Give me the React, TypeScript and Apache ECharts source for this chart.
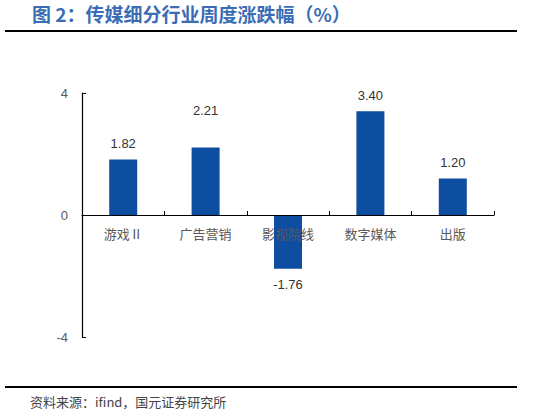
import { useEffect, useRef } from 'react';
import * as echarts from 'echarts';

const categories = ['游戏Ⅱ', '广告营销', '影视院线', '数字媒体', '出版'];
const values = [1.82, 2.21, -1.76, 3.4, 1.2];
// the 2.21 label sits higher than the others in the source
const labelLift = [0, 22, 0, 0, 0];

const TITLE = '图 2：传媒细分行业周度涨跌幅（%）';
const SOURCE = '资料来源：ifind，国元证券研究所';

const BAR_COLOR = '#0d4ea0';
const AXIS_TEXT = '#595959';
const CJK = '"Noto Sans CJK SC", sans-serif';
const LATIN = '"Liberation Sans", Arial, sans-serif';

const GRID_TOP = 93;
const GRID_BOTTOM = 80;
const Y_MIN = -4;
const Y_MAX = 4;

export default function App() {
  const ref = useRef<HTMLDivElement>(null);

  useEffect(() => {
    document.body.style.margin = '0';
    if (!ref.current) return;
    const chart = echarts.init(ref.current, undefined, { renderer: 'svg' });

    // move the category axis (line, ticks and labels) up to the zero line
    const plotH = 417 - GRID_TOP - GRID_BOTTOM;
    const zeroShift = (plotH * (0 - Y_MIN)) / (Y_MAX - Y_MIN);

    chart.setOption({
      animation: false,
      grid: { left: 82, right: 39, top: GRID_TOP, bottom: GRID_BOTTOM },
      xAxis: {
        type: 'category',
        data: categories,
        offset: -zeroShift,
        axisLine: { onZero: false, lineStyle: { color: '#000', width: 1.2 } },
        axisTick: { show: true, inside: true, length: 4, lineStyle: { color: '#000' } },
        axisLabel: { color: AXIS_TEXT, fontSize: 13, fontFamily: CJK, margin: 12 },
        z: 10,
      },
      yAxis: {
        type: 'value',
        min: Y_MIN,
        max: Y_MAX,
        interval: 4,
        axisLine: { show: true, lineStyle: { color: '#000', width: 1.2 } },
        axisTick: { show: true, inside: true, length: 4, lineStyle: { color: '#000' } },
        axisLabel: { color: AXIS_TEXT, fontSize: 13, fontFamily: LATIN, margin: 14 },
        splitLine: { show: false },
      },
      series: [
        {
          type: 'bar',
          barWidth: '34%',
          data: values.map((v, i) => ({
            value: v,
            label: { offset: [0, -labelLift[i]] },
          })),
          itemStyle: { color: BAR_COLOR },
          label: {
            show: true,
            position: 'outside',
            distance: 9,
            color: '#333',
            fontSize: 13,
            fontFamily: LATIN,
            formatter: (p: any) => Number(p.value).toFixed(2),
          },
        },
      ],
      graphic: [
        {
          type: 'text',
          left: 32,
          top: 4,
          style: {
            text: TITLE,
            fill: '#3a6db4',
            font: `bold 19px ${CJK}`,
          },
        },
        {
          type: 'line',
          shape: { x1: 5, y1: 31, x2: 517, y2: 31 },
          style: { stroke: '#000', lineWidth: 2 },
        },
        {
          type: 'line',
          shape: { x1: 5, y1: 387, x2: 517, y2: 387 },
          style: { stroke: '#000', lineWidth: 2 },
        },
        {
          type: 'text',
          left: 30,
          top: 395,
          style: {
            text: SOURCE,
            fill: '#444',
            font: `13px ${CJK}`,
          },
        },
      ],
    });

    return () => {
      chart.dispose();
    };
  }, []);

  return <div ref={ref} style={{ width: 533, height: 417 }} />;
}
